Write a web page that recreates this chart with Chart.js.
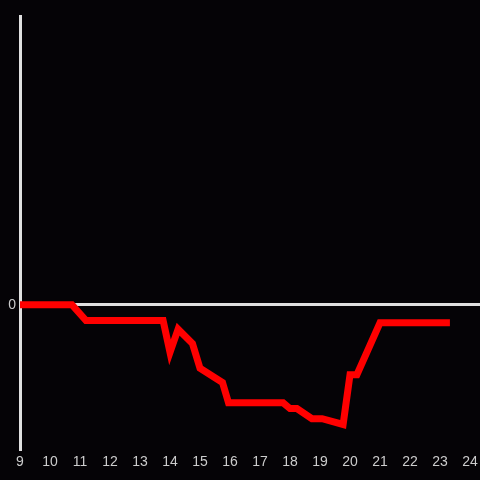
<!DOCTYPE html>
<html lang="en">
  <head>
    <meta charset="UTF-8" />
    <title>Line</title>
    <script src="https://cdn.jsdelivr.net/npm/chart.js@4.4.1/dist/chart.umd.min.js"></script>
    <style>
      html, body { margin: 0; padding: 0; background: #050306; }
      #wrap { width: 480px; height: 480px; }
    </style>
  </head>
  <body>
    <div id="wrap"><canvas id="c"></canvas></div>
    <script>
      // hour of day and the plotted value at each vertex
      const hours = [9, 10.73, 11.2, 13.77, 14.0, 14.27, 14.75, 15.0, 15.75, 15.95, 17.77, 18.0, 18.23, 18.73, 19.07, 19.77, 20.0, 20.23, 21.0, 23.33];
      const values = [0, 0, -0.11, -0.11, -0.33, -0.17, -0.27, -0.44, -0.54, -0.68, -0.68, -0.72, -0.72, -0.79, -0.79, -0.83, -0.485, -0.485, -0.125, -0.125];
      const xTicks = [9, 10, 11, 12, 13, 14, 15, 16, 17, 18, 19, 20, 21, 22, 23, 24];
      const yTicks = [0];

      const points = hours.map((h, i) => ({ x: h, y: values[i] }));

      const bg = {
        id: "bg",
        beforeDraw(chart) {
          const c = chart.ctx;
          c.save();
          c.fillStyle = "#050306";
          c.fillRect(0, 0, chart.width, chart.height);
          c.restore();
        },
      };

      new Chart(document.getElementById("c"), {
        type: "line",
        data: {
          datasets: [{
            data: points,
            borderColor: "#ff0000",
            borderWidth: 7,
            pointRadius: 0,
            tension: 0,
            fill: false,
          }],
        },
        plugins: [bg],
        options: {
          responsive: true,
          maintainAspectRatio: false,
          animation: false,
          layout: { padding: { top: 16, right: 0, left: 0, bottom: 0 } },
          plugins: { legend: { display: false }, tooltip: { enabled: false } },
          scales: {
            x: {
              type: "linear",
              min: 9,
              max: 24.333,
              afterBuildTicks: (s) => { s.ticks = xTicks.map((v) => ({ value: v })); },
              afterFit: (s) => { s.height = 31; s.paddingRight = 0; s.paddingLeft = 0; },
              grid: { display: false, drawTicks: false },
              border: { display: false },
              ticks: {
                color: "#cccccc",
                font: { family: "Liberation Sans", size: 14 },
                padding: 5,
                maxRotation: 0,
                autoSkip: false,
              },
            },
            y: {
              min: -1,
              max: 2,
              afterBuildTicks: (s) => { s.ticks = yTicks.map((v) => ({ value: v })); },
              afterFit: (s) => { s.width = 20; },
              grid: { color: "#e0e0e0", lineWidth: 3, drawTicks: false },
              border: { display: true, color: "#e0e0e0", width: 3 },
              ticks: {
                color: "#cccccc",
                font: { family: "Liberation Sans", size: 14 },
                padding: 4,
              },
            },
          },
        },
      });
    </script>
  </body>
</html>
